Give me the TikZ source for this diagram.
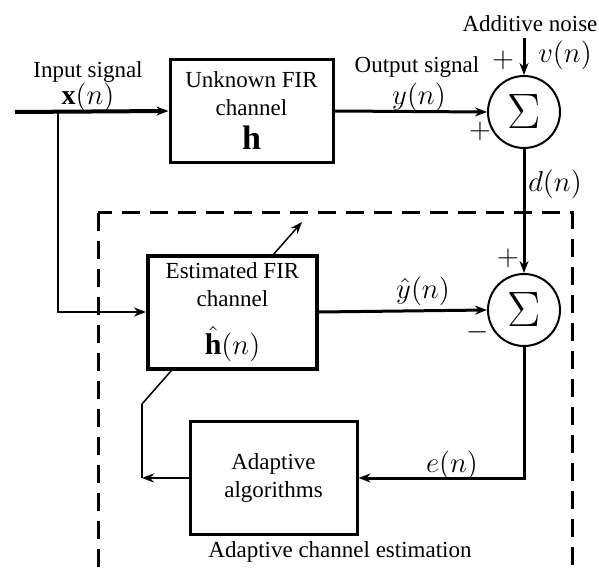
\documentclass[tikz,border=0pt]{standalone}
\usepackage{fontspec}
\setmainfont{Liberation Serif}
\usetikzlibrary{arrows.meta, positioning, calc}

\begin{document}
\begin{tikzpicture}[
    x=0.5pt, y=-0.5pt,
    box/.style={rectangle, draw, fill=white, line width=1.5pt, align=center, inner sep=2pt, font=\fontsize{11.5}{14}\selectfont},
    sumnode/.style={circle, draw, fill=white, line width=1pt, minimum size=36pt, inner sep=0pt, font=\fontsize{23}{26}\selectfont},
    arrow/.style={->, >={Stealth[length=6pt, width=4.5pt]}, line width=1.5pt},
    lbl/.style={inner sep=1pt, font=\fontsize{11.5}{14}\selectfont},
    sig/.style={inner sep=1pt, font=\fontsize{14}{16}\selectfont}
]
\useasboundingbox (0,0) rectangle (599,572);
\clip (0,0) rectangle (599,572);

% free ends and corners
\coordinate (inL) at (15,112);
\coordinate (split) at (58,112);
\coordinate (noise) at (524,38);
\coordinate (fbk) at (142,478);
\coordinate (tune1) at (142,404);
\coordinate (tune2) at (302,222);

% estimation region
\draw[line width=1.5pt, dash pattern=on 9pt off 5pt] (98,213) rectangle (572,600);
\node[lbl] (caption) at (340,552) {Adaptive channel estimation};

% tuning line goes behind the estimated channel
\draw[line width=0.75pt] (fbk) -- (tune1);
\draw[arrow, line width=0.75pt] (tune1) -- (tune2);

\node[box, minimum width=81.5pt, minimum height=51.5pt] (unk) at (251.5,111) {Unknown FIR\\channel\\[3pt]{\fontsize{17}{17}\selectfont$\mathbf{h}$}};
\node[box, line width=2pt, minimum width=84.5pt, minimum height=56.5pt] (est) at (232.5,312) {Estimated FIR\\channel\\[9pt]{\fontsize{15}{17}\selectfont$\hat{\mathbf{h}}(n)$}};
\node[box, minimum width=83.5pt, minimum height=56.5pt] (adapt) at (273.5,478) {Adaptive\\algorithms};
\node[sumnode] (sum1) at (524,112) {$\Sigma$};
\node[sumnode] (sum2) at (524,310) {$\Sigma$};

\draw[arrow, line width=2pt] (inL) -- (unk.west);
\draw[arrow] (unk.east) -- (sum1.west);
\draw[arrow] (noise) -- (sum1.north);
\draw[arrow] (sum1.south) -- (sum2.north);
\draw[arrow, line width=1pt] (split) |- (est.west);
\draw[arrow] (est.east) -- (sum2.west);
\draw[arrow] (sum2.south) |- (adapt.east);
\draw[arrow, line width=1pt] (adapt.west) -- (fbk);

% signal labels
\node[lbl] (inlbl) at (88,72) {Input signal};
\node[sig] (xlbl) at (88,97) {$\mathbf{x}(n)$};
\node[lbl] (outlbl) at (417,67) {Output signal};
\node[sig] (ylbl) at (419,97) {$y(n)$};
\node[lbl] (noiselbl) at (530,24) {Additive noise};
\node[sig] (vlbl) at (565,55) {$v(n)$};
\node[sig] (dlbl) at (555,184) {$d(n)$};
\node[sig] (yhlbl) at (423,291) {$\hat{y}(n)$};
\node[sig] (elbl) at (452,465) {$e(n)$};

% signs
\node[sig] (p1) at (503,60) {$+$};
\node[sig] (p2) at (480,131) {$+$};
\node[sig] (p3) at (508,258) {$+$};
\node[sig] (m1) at (478,332) {$-$};

\end{tikzpicture}
\end{document}
